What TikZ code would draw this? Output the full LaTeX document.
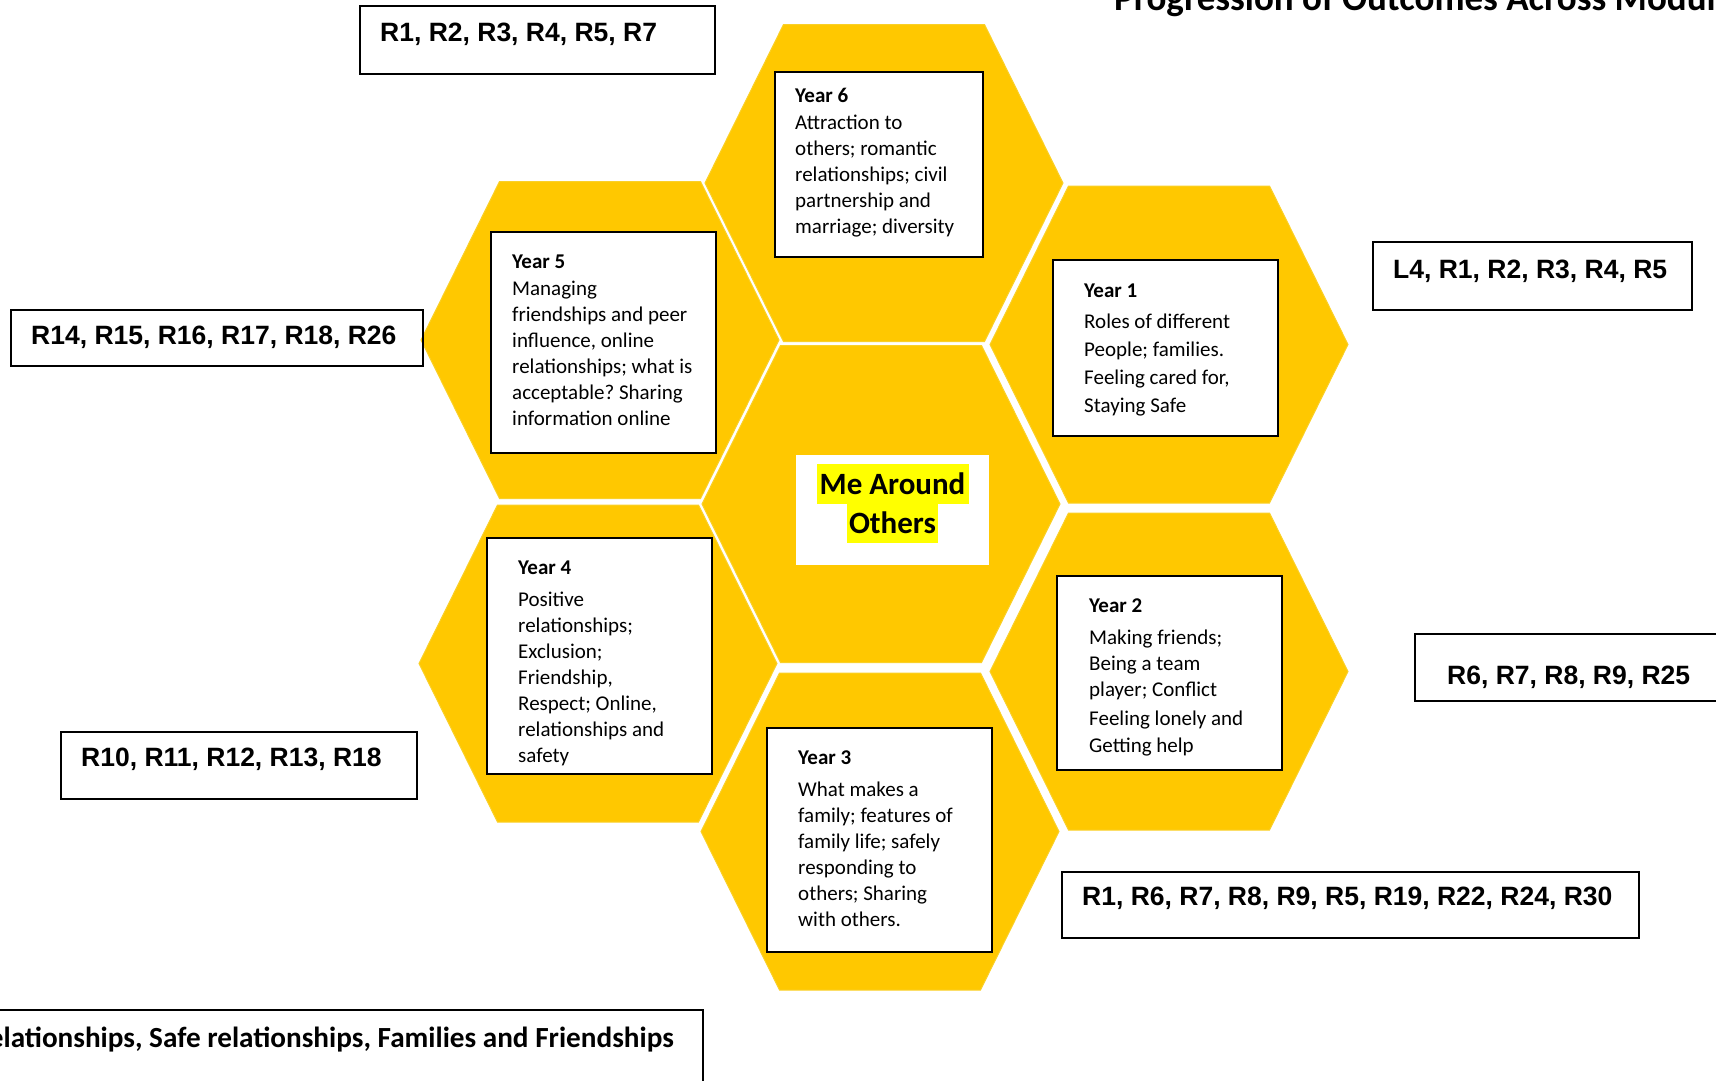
\documentclass[tikz,border=0pt]{standalone}
\usepackage{fontspec}
\setmainfont{Carlito}
\newfontfamily\arialfont{Liberation Sans}
\frenchspacing

\definecolor{honey}{RGB}{255,200,0}
\definecolor{honeyedge}{RGB}{250,208,40}
\definecolor{marker}{RGB}{255,255,0}

\tikzset{
	hexcell/.style={fill=honey, draw=honeyedge, line width=1pt},
	yearbox/.style={draw=black, fill=white, line width=1.3pt},
	codebox/.style={draw=black, line width=1.3pt},
	yeartext/.style={anchor=base west, inner sep=0pt, align=left, font=\fontsize{21}{26}\selectfont},
	codetext/.style={anchor=base west, inner sep=0pt, font=\arialfont\bfseries\fontsize{26.5}{30}\selectfont},
}

\begin{document}
\begin{tikzpicture}[x=1pt, y=-1pt]
			\useasboundingbox (0,0) rectangle (1716,1080);
			\foreach \cx/\cy in {884/183, 600/340, 1169/344.5, 881/504, 598/663.5, 1169/671.5, 880/831.5}
				\draw [hexcell] (\cx-179,\cy) -- ++(78.5,-158.5) -- ++(201,0) -- ++(78.5,158.5) -- ++(-78.5,158.5) -- ++(-201,0) -- cycle;
			\draw [yearbox] (775,72) rectangle (983,257);
			\draw [yearbox] (491,232) rectangle (716,453);
			\draw [yearbox] (1053,260) rectangle (1278,436);
			\draw [yearbox] (487,538) rectangle (712,774);
			\draw [yearbox] (1057,576) rectangle (1282,770);
			\draw [yearbox] (767,728) rectangle (992,952);
			\fill [white] (796,455) rectangle (989,565);
			\fill [marker] (817,464) rectangle (969,504);
			\fill [marker] (847,504) rectangle (938,543);
			% multi-line nodes sit on the baseline of their last line
			\node [anchor=base, inner sep=0pt, align=center, font=\bfseries\fontsize{31}{39}\selectfont] (theme) at (892.5,533) {Me Around\\Others};
			\node [yeartext] (y6) at (795,233) {\textbf{Year 6}\\[1pt]Attraction to\\others; romantic\\relationships; civil\\partnership and\\marriage; diversity};
			\node [yeartext] (y5) at (512,425) {\textbf{Year 5}\\[1pt]Managing\\friendships and peer\\influence, online\\relationships; what is\\acceptable? Sharing\\information online};
			\node [yeartext, font=\fontsize{21}{28}\selectfont] (y1) at (1084,412) {\textbf{Year 1}\\[3pt]Roles of different\\People; families.\\Feeling cared for,\\Staying Safe};
			\node [yeartext] (y2) at (1089,752) {\textbf{Year 2}\\[6pt]Making friends;\\Being a team\\player; Conflict\\[3pt]Feeling lonely and\\[1pt]Getting help};
			\node [yeartext] (y3) at (798,926) {\textbf{Year 3}\\[6pt]What makes a\\family; features of\\family life; safely\\responding to\\others; Sharing\\with others.};
			\begin{scope}
				\clip (487,538) rectangle (712,765);
				\node [yeartext] (y4) at (518,762) {\textbf{Year 4}\\[6pt]Positive\\relationships;\\Exclusion;\\Friendship,\\Respect; Online,\\relationships and\\safety};
			\end{scope}
			\draw [codebox] (360,6) rectangle (715,74);
			\node [codetext] (codes6) at (380,41) {R1, R2, R3, R4, R5, R7};
			\draw [codebox] (1373,242) rectangle (1692,310);
			\node [codetext] (codes1) at (1393,278) {L4, R1, R2, R3, R4, R5};
			\draw [codebox] (11,310) rectangle (423,366);
			\node [codetext] (codes5) at (31,344) {R14, R15, R16, R17, R18, R26};
			\draw [codebox] (1415,634) rectangle (1730,701);
			\node [codetext] (codes2) at (1447,684) {R6, R7, R8, R9, R25};
			\draw [codebox] (61,732) rectangle (417,799);
			\node [codetext] (codes4) at (81,766) {R10, R11, R12, R13, R18};
			\draw [codebox] (1062,872) rectangle (1639,938);
			\node [codetext] (codes3) at (1082,905) {R1, R6, R7, R8, R9, R5, R19, R22, R24, R30};
			\draw [codebox] (-10,1010) rectangle (703,1095);
			\node [anchor=base east, inner sep=0pt, font=\bfseries\fontsize{29.2}{34}\selectfont] (strand) at (674,1047) {Relationships, Safe relationships, Families and Friendships};
			\node [anchor=base west, inner sep=0pt, font=\bfseries\fontsize{37}{44}\selectfont] (title) at (1114,10) {Progression of Outcomes Across Modules};
	\end{tikzpicture}
\end{document}
